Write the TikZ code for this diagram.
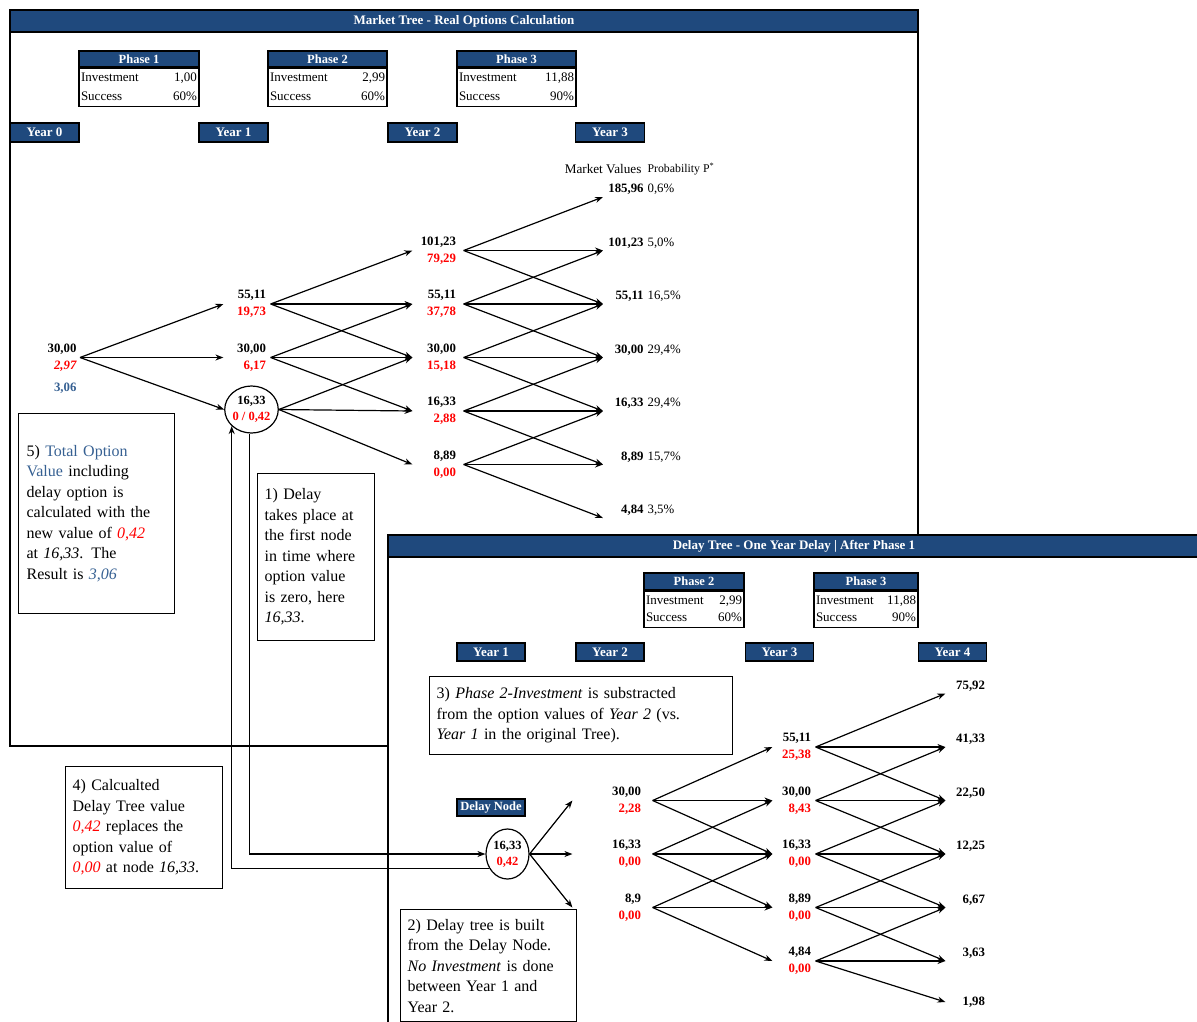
\documentclass[tikz,border=0pt]{standalone}
\usepackage{fontspec}
\setmainfont{Liberation Serif}
\usetikzlibrary{arrows.meta, positioning, shapes}
\definecolor{navy}{RGB}{31,73,125}
\definecolor{steel}{RGB}{54,96,146}
\tikzset{
	titlebar/.style={draw, fill=navy, text=white, font=\fontsize{13}{15}\selectfont\bfseries, minimum height=22pt, inner sep=0pt},
	yearbox/.style={draw, fill=navy, text=white, font=\fontsize{13}{15}\selectfont\bfseries, minimum width=69pt, minimum height=19pt, inner sep=0pt},
	phasehead/.style={draw, fill=navy, text=white, font=\fontsize{12.5}{14}\selectfont\bfseries, minimum height=16pt, inner sep=0pt},
	phasebody/.style={draw, align=left, inner xsep=2pt, inner ysep=0pt, minimum height=38pt, font=\fontsize{13}{19}\selectfont},
	val/.style={align=right, inner ysep=0pt, font=\fontsize{12.8}{17}\selectfont\bfseries},
	endval/.style={align=left, anchor=west, inner xsep=3pt, inner ysep=0pt, font=\fontsize{12.8}{17}\selectfont\bfseries},
	optval/.style={ellipse, draw, inner sep=0pt, align=center, font=\fontsize{12.5}{16}\selectfont\bfseries},
	note/.style={draw, align=left, anchor=north west, inner xsep=7pt, font=\fontsize{16}{20.5}\selectfont},
	tree/.style={->}
}
\newcommand{\pct}[2]{\makebox[37pt][r]{#1}\hspace{4pt}{\mdseries #2}\\ \mbox{}}
\newcommand{\red}[1]{\textcolor{red}{#1}}

\begin{document}
\begin{tikzpicture}[x=1pt, y=-1pt, >={Stealth[length=8pt, width=6pt]}, line width=1.2pt]
	\useasboundingbox (0,0) rectangle (1197,1021);

	% market tree
	\draw (10,10) rectangle (918,746);
	\node[titlebar, minimum width=908pt] (mtitle) at (464,21) {Market Tree - Real Options Calculation};

	\node[phasehead, minimum width=120pt] (p1) at (139,59)   {Phase 1};
	\node[phasebody, text width=116pt, below=0pt of p1] (p1b) {Investment\hfill 1,00\\ Success\hfill 60\%};
	\node[phasehead, minimum width=119pt] (p2) at (327.5,59) {Phase 2};
	\node[phasebody, text width=115pt, below=0pt of p2] (p2b) {Investment\hfill 2,99\\ Success\hfill 60\%};
	\node[phasehead, minimum width=119pt] (p3) at (516.5,59) {Phase 3};
	\node[phasebody, text width=115pt, below=0pt of p3] (p3b) {Investment\hfill 11,88\\ Success\hfill 90\%};

	\node[yearbox] (y0) at (44.5,132.5)  {Year 0};
	\node[yearbox] (y1) at (233.5,132.5) {Year 1};
	\node[yearbox] (y2) at (422.5,132.5) {Year 2};
	\node[yearbox] (y3) at (610,132.5)   {Year 3};

	\node[anchor=east, inner sep=0pt, font=\fontsize{13.2}{15}\selectfont] (mvhead) at (642,169) {Market Values};
	\node[right=5pt of mvhead, inner sep=0pt, font=\fontsize{11.8}{13}\selectfont] (prhead) {Probability P\textsuperscript{*}};

	\node[val, text width=36pt, inner xsep=3pt, anchor=east] (m0) at (80,357.5) {30,00\\ \red{\itshape 2,97}};
	\node[val, text width=36pt, inner xsep=3pt, anchor=east, text=steel] (m0tot) at (80,388) {3,06};

	\node[val, text width=38pt, inner xsep=4pt] (m11) at (247,304)   {55,11\\ \red{19,73}};
	\node[val, text width=38pt, inner xsep=4pt] (m12) at (247,357.5) {30,00\\ \red{6,17}};
	\node[optval, minimum width=51pt, minimum height=47pt] (m13) at (251.5,409.5) {16,33\\ \red{0 / 0,42}};

	\node[val, text width=36pt, inner xsep=7pt] (m21) at (438,250.5) {101,23\\ \red{79,29}};
	\node[val, text width=36pt, inner xsep=7pt] (m22) at (438,304)   {55,11\\ \red{37,78}};
	\node[val, text width=36pt, inner xsep=7pt] (m23) at (438,357.5) {30,00\\ \red{15,18}};
	\node[val, text width=36pt, inner xsep=7pt] (m24) at (438,411)   {16,33\\ \red{2,88}};
	\node[val, text width=36pt, inner xsep=7pt] (m25) at (438,464.5) {8,89\\ \red{0,00}};

	\node[endval] (m31) at (603,197)   {\pct{185,96}{0,6\%}};
	\node[endval] (m32) at (603,250.5) {\pct{101,23}{5,0\%}};
	\node[endval] (m33) at (603,304)   {\pct{55,11}{16,5\%}};
	\node[endval] (m34) at (603,357.5) {\pct{30,00}{29,4\%}};
	\node[endval] (m35) at (603,411)   {\pct{16,33}{29,4\%}};
	\node[endval] (m36) at (603,464.5) {\pct{8,89}{15,7\%}};
	\node[endval] (m37) at (603,518)   {\pct{4,84}{3,5\%}};

	\foreach \i in {1,2,3}
		\path[tree] (m0.east) edge (m1\i.west);
	\foreach \i in {1,2,3}{
		\foreach \j in {0,1,2}{
			\pgfmathtruncatemacro{\k}{\i+\j}
			\path[tree] (m1\i.east) edge (m2\k.west);
		}
	}
	\foreach \i in {1,...,5}{
		\foreach \j in {0,1,2}{
			\pgfmathtruncatemacro{\k}{\i+\j}
			\path[tree] (m2\i.east) edge (m3\k.west);
		}
	}

	% delay tree
	\filldraw[fill=white] (388,535) rectangle (1210,1040);
	\node[titlebar, minimum width=812pt] (dtitle) at (794,546) {Delay Tree - One Year Delay | After Phase 1};

	\node[phasehead, minimum width=100pt, minimum height=17pt] (q2) at (694,581.5) {Phase 2};
	\node[phasebody, text width=96pt, minimum height=36pt, font=\fontsize{13}{17}\selectfont, below=0pt of q2] (q2b) {Investment\hfill 2,99\\ Success\hfill 60\%};
	\node[phasehead, minimum width=104pt, minimum height=17pt] (q3) at (866,581.5) {Phase 3};
	\node[phasebody, text width=100pt, minimum height=36pt, font=\fontsize{13}{17}\selectfont, below=0pt of q3] (q3b) {Investment\hfill 11,88\\ Success\hfill 90\%};

	\node[yearbox, minimum width=68pt, minimum height=18pt] (z1) at (491,652)   {Year 1};
	\node[yearbox, minimum width=68pt, minimum height=18pt] (z2) at (610,652)   {Year 2};
	\node[yearbox, minimum width=68pt, minimum height=18pt] (z3) at (779.5,652) {Year 3};
	\node[yearbox, minimum width=68pt, minimum height=18pt] (z4) at (952.5,652) {Year 4};

	\node[yearbox, minimum width=68pt, minimum height=17pt, font=\fontsize{12.5}{14}\selectfont\bfseries] (dnlabel) at (491,807.5) {Delay Node};
	\node[optval, minimum width=43pt, minimum height=50pt] (dn) at (507.5,854) {16,33\\ \red{0,42}};

	\node[val, text width=57pt, inner xsep=11pt] (d21) at (612.5,800.5) {30,00\\ \red{2,28}};
	\node[val, text width=57pt, inner xsep=11pt] (d22) at (612.5,854)   {16,33\\ \red{0,00}};
	\node[val, text width=57pt, inner xsep=11pt] (d23) at (612.5,907.5) {8,9\\ \red{0,00}};

	\node[val, text width=34pt, inner xsep=4pt] (d31) at (794,747)   {55,11\\ \red{25,38}};
	\node[val, text width=34pt, inner xsep=4pt] (d32) at (794,800.5) {30,00\\ \red{8,43}};
	\node[val, text width=34pt, inner xsep=4pt] (d33) at (794,854)   {16,33\\ \red{0,00}};
	\node[val, text width=34pt, inner xsep=4pt] (d34) at (794,907.5) {8,89\\ \red{0,00}};
	\node[val, text width=34pt, inner xsep=4pt] (d35) at (794,961)   {4,84\\ \red{0,00}};

	\node[val, text width=36pt, inner xsep=3pt] (d41) at (967,693.5) {75,92\\ \mbox{}};
	\node[val, text width=36pt, inner xsep=3pt] (d42) at (967,747)   {41,33\\ \mbox{}};
	\node[val, text width=36pt, inner xsep=3pt] (d43) at (967,800.5) {22,50\\ \mbox{}};
	\node[val, text width=36pt, inner xsep=3pt] (d44) at (967,854)   {12,25\\ \mbox{}};
	\node[val, text width=36pt, inner xsep=3pt] (d45) at (967,907.5) {6,67\\ \mbox{}};
	\node[val, text width=36pt, inner xsep=3pt] (d46) at (967,961)   {3,63\\ \mbox{}};
	\node[val, text width=36pt, inner xsep=3pt] (d47) at (967,1002)  {1,98};

	\foreach \i in {1,2,3}
		\path[tree] (dn.east) edge (d2\i.west);
	\foreach \i in {1,2,3}{
		\foreach \j in {0,1,2}{
			\pgfmathtruncatemacro{\k}{\i+\j}
			\path[tree] (d2\i.east) edge (d3\k.west);
		}
	}
	\foreach \i in {1,...,5}{
		\foreach \j in {0,1,2}{
			\pgfmathtruncatemacro{\k}{\i+\j}
			\path[tree] (d3\i.east) edge (d4\k.west);
		}
	}

	% notes
	\node[note, text width=140pt, inner xsep=8pt, minimum height=200pt] (n5) at (18,413)
		{5) \textcolor{steel}{Total Option}\\ \textcolor{steel}{Value} including\\ delay option is\\ calculated with the\\ new value of \red{\itshape 0,42}\\ at \textit{16,33}. The\\ Result is \textcolor{steel}{\itshape 3,06}};
	\node[note, text width=103pt, minimum height=167pt] (n1) at (257,473)
		{1) Delay\\ takes place at\\ the first node\\ in time where\\ option value\\ is zero, here\\ \textit{16,33}.};
	\node[note, text width=289pt, minimum height=78pt] (n3) at (429,676)
		{3) \textit{Phase 2-Investment} is substracted\\ from the option values of \textit{Year 2} (vs.\\ \textit{Year 1} in the original Tree).};
	\node[note, text width=143pt, minimum height=122pt] (n4) at (65,766)
		{4) Calcualted\\ Delay Tree value\\ \red{\itshape 0,42} replaces the\\ option value of\\ \red{\itshape 0,00} at node \textit{16,33}.};
	\node[note, text width=162pt, minimum height=112pt] (n2) at (400,909)
		{2) Delay tree is built\\ from the Delay Node.\\ \textit{No Investment} is done\\ between Year 1 and\\ Year 2.};

	% links between the trees
	\draw[->] (m13.265) |- (dn.west);
	\draw[->] (dn.218) -| (m13.220);
\end{tikzpicture}
\end{document}
